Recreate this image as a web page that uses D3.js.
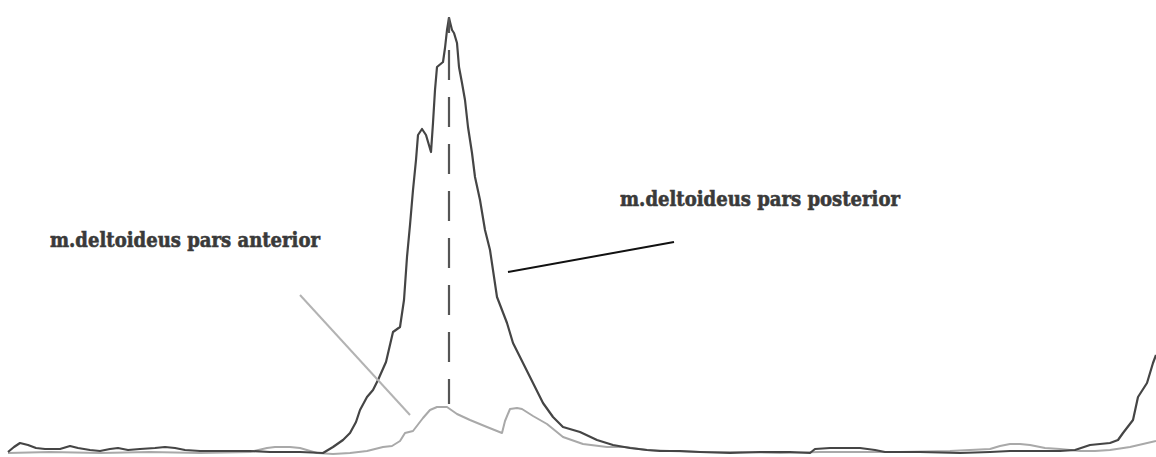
<!DOCTYPE html>
<html>
<head>
<meta charset="utf-8">
<script src="https://cdn.jsdelivr.net/npm/d3@7"></script>
<style>
  html, body { margin: 0; padding: 0; background: #fff; }
  svg { display: block; }
</style>
</head>
<body>
<svg id="chart" width="1156" height="457"></svg>
<script>
// ---- data (time in samples, amplitude in arbitrary units) ----
const posteriorTime = [8,14,20,28,36,45,60,70,78,90,100,110,118,128,140,155,165,175,185,200,230,250,270,300,323,333,343,350,356,360,367,373,378,386,393,400,404,407,410,413,416,418,422,426,431,433,435,437,443,445,447,449,452,454,457,459,462,465,468,472,475,480,485,490,497,507,513,523,533,543,553,563,580,597,613,630,647,660,680,700,730,760,790,810,815,830,860,875,885,920,960,990,1010,1040,1060,1075,1090,1110,1118,1123,1133,1138,1147,1153,1156];
const posteriorAmp  = [0,5,9,7,4,3,3,6,4,2,1,3,4,2,3,4,5,4,2,1,1,1,0,0,-1,5,12,19,30,42,55,62,72,90,120,125,152,195,227,262,292,317,323,317,300,329,362,385,390,404,422,434,422,419,409,385,369,352,325,299,275,252,222,202,155,129,109,89,69,49,35,25,20,12,7,4,2,1,1,0,-1,0,0,-1,3,4,4,2,0,0,-1,0,1,1,1,2,7,9,12,19,32,55,69,89,97];
const anteriorTime = [8,50,100,150,200,250,267,275,290,300,317,333,350,367,383,392,400,405,413,423,430,437,447,457,470,487,502,505,510,517,522,533,547,563,583,607,625,647,670,700,740,780,820,860,900,950,990,1000,1010,1020,1030,1045,1060,1080,1095,1110,1130,1156];
const anteriorAmp  = [-1,0,-1,0,-1,0,4,5,5,4,-1,-2,-1,1,5,6,11,19,21,34,42,45,45,38,32,25,19,31,43,44,43,36,28,15,8,5,5,2,1,0,0,-1,0,0,0,1,3,6,8,8,7,4,3,1,1,2,5,11];
const peakMarker = { time: 449, top: 435, bottom: 48 };
const labels = [
  { text: "m.deltoideus pars posterior", time: 620, amp: 246, width: 280 },
  { text: "m.deltoideus pars anterior",  time: 50,  amp: 205, width: 270 }
];
const posteriorLeader = [[508, 180], [674, 210]];
const anteriorLeader  = [[300, 157], [410, 37]];

// ---- drawing ----
const W = 1156, H = 457;
const svg = d3.select("#chart");
svg.append("rect").attr("width", W).attr("height", H).attr("fill", "#fff");

const x = d3.scaleLinear().domain([0, 1156]).range([0, 1156]);
const y = d3.scaleLinear().domain([0, 452]).range([452, 0]);

const mk = d3.line().x(d => x(d[0])).y(d => y(d[1]));

const ant = anteriorTime.map((t, i) => [t, anteriorAmp[i]]);
const post = posteriorTime.map((t, i) => [t, posteriorAmp[i]]);

svg.append("path").datum(ant)
  .attr("d", mk).attr("fill", "none")
  .attr("stroke", "#a9a9a9").attr("stroke-width", 2)
  .attr("stroke-linejoin", "round");

svg.append("path").datum(post)
  .attr("d", mk).attr("fill", "none")
  .attr("stroke", "#454545").attr("stroke-width", 2.2)
  .attr("stroke-linejoin", "round");

// dashed peak marker
svg.append("line")
  .attr("x1", x(peakMarker.time)).attr("x2", x(peakMarker.time))
  .attr("y1", y(peakMarker.top)).attr("y2", y(peakMarker.bottom))
  .attr("stroke", "#555").attr("stroke-width", 2.2)
  .attr("stroke-dasharray", "30 17").attr("stroke-dashoffset", 14);

// leader lines
svg.append("path").datum(posteriorLeader).attr("d", mk)
  .attr("stroke", "#111").attr("stroke-width", 2).attr("fill", "none");
svg.append("path").datum(anteriorLeader).attr("d", mk)
  .attr("stroke", "#b3b3b3").attr("stroke-width", 2).attr("fill", "none");

// labels
svg.selectAll("text.lbl").data(labels).enter().append("text")
  .attr("class", "lbl")
  .attr("x", d => x(d.time)).attr("y", d => y(d.amp))
  .attr("textLength", d => d.width).attr("lengthAdjust", "spacingAndGlyphs")
  .attr("font-family", "'DejaVu Serif', 'Liberation Serif', serif")
  .attr("font-weight", "bold").attr("font-size", 20)
  .attr("fill", "#3a3a3a").attr("stroke", "#3a3a3a").attr("stroke-width", 0.6)
  .text(d => d.text);
</script>
</body>
</html>
